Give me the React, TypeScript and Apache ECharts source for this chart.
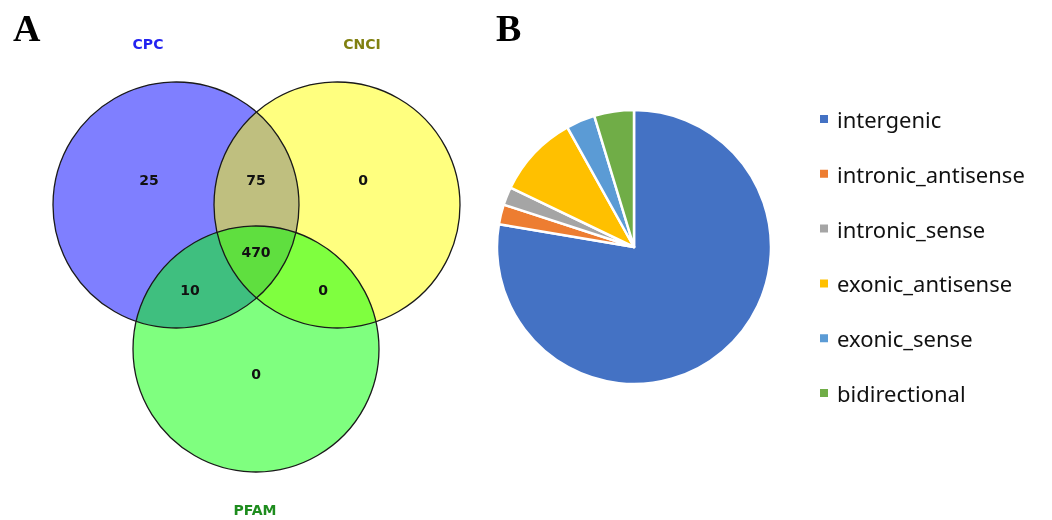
import React, { useEffect, useRef } from "react";
import * as echarts from "echarts";

// Venn data
const vennSets = ["CPC", "CNCI", "PFAM"];
const vennSetColors = ["#2323f0", "#808010", "#1e8c1e"];
const vennRegions = ["CPC only", "CPC∩CNCI", "CNCI only", "CPC∩CNCI∩PFAM", "CPC∩PFAM", "CNCI∩PFAM", "PFAM only"];
const vennCounts = [25, 75, 0, 470, 10, 0, 0];

// Pie data
const pieCategories = ["intergenic", "intronic_antisense", "intronic_sense", "exonic_antisense", "exonic_sense", "bidirectional"];
const pieValues = [365, 11, 10, 46, 16, 22];
const pieColors = ["#4472C4", "#ED7D31", "#A5A5A5", "#FFC000", "#5B9BD5", "#70AD47"];

// layout (pixels)
const circleLayout = [
  { cx: 176, cy: 205, r: 123, fill: "rgba(0,0,255,0.5)" },
  { cx: 337, cy: 205, r: 123, fill: "rgba(255,255,0,0.5)" },
  { cx: 256, cy: 349, r: 123, fill: "rgba(0,255,0,0.5)" },
];
const setLabelPos = [
  [148, 44],
  [362, 44],
  [255, 510],
];
const regionPos = [
  [149, 180],
  [256, 180],
  [363, 180],
  [256, 252],
  [190, 290],
  [323, 290],
  [256, 374],
];

export default function App() {
  const ref = useRef<HTMLDivElement>(null);
  useEffect(() => {
    if (!ref.current) return;
    const chart = echarts.init(ref.current, null, { renderer: "svg" });
    const graphics: any[] = [];
    circleLayout.forEach((c) => {
      graphics.push({
        type: "circle",
        shape: { cx: c.cx, cy: c.cy, r: c.r },
        style: { fill: c.fill, stroke: "none" },
        silent: true,
      });
    });
    circleLayout.forEach((c) => {
      graphics.push({
        type: "circle",
        shape: { cx: c.cx, cy: c.cy, r: c.r },
        style: { fill: "none", stroke: "#1a1a1a", lineWidth: 1.3 },
        silent: true,
      });
    });
    vennSets.forEach((s, i) => {
      graphics.push({
        type: "text",
        x: setLabelPos[i][0],
        y: setLabelPos[i][1],
        style: {
          text: s,
          fill: vennSetColors[i],
          font: "bold 14px 'DejaVu Sans', Verdana, sans-serif",
          align: "center",
          verticalAlign: "middle",
        },
      });
    });
    vennCounts.forEach((v, i) => {
      graphics.push({
        type: "text",
        x: regionPos[i][0],
        y: regionPos[i][1],
        style: {
          text: String(v),
          fill: "#111",
          font: "bold 14px 'DejaVu Sans', Verdana, sans-serif",
          align: "center",
          verticalAlign: "middle",
        },
      });
    });
    graphics.push({
      type: "text",
      x: 13,
      y: 28,
      style: {
        text: "A",
        fill: "#000",
        font: "bold 38px 'Liberation Serif', 'Times New Roman', serif",
        align: "left",
        verticalAlign: "middle",
      },
    });
    graphics.push({
      type: "text",
      x: 496,
      y: 28,
      style: {
        text: "B",
        fill: "#000",
        font: "bold 38px 'Liberation Serif', 'Times New Roman', serif",
        align: "left",
        verticalAlign: "middle",
      },
    });

    chart.setOption({
      animation: false,
      color: pieColors,
      graphic: graphics,
      legend: {
        orient: "vertical",
        left: 813,
        top: 103,
        icon: "rect",
        itemWidth: 10,
        itemHeight: 10,
        itemGap: 32.8,
        data: pieCategories,
        textStyle: {
          fontFamily: "'Noto Sans', 'Open Sans', sans-serif",
          fontSize: 22,
          lineHeight: 22,
          color: "#111",
          padding: [0, 0, 0, 3],
        },
        selectedMode: false,
      },
      series: [
        {
          type: "pie",
          center: [634, 247],
          radius: 137,
          startAngle: 90,
          clockwise: true,
          label: { show: false },
          labelLine: { show: false },
          itemStyle: { borderColor: "#fff", borderWidth: 2.5 },
          emphasis: { disabled: true },
          data: pieCategories.map((c, i) => ({ name: c, value: pieValues[i] })),
        },
      ],
    });
    return () => chart.dispose();
  }, []);
  return (
    <div
      ref={ref}
      style={{ position: "fixed", left: 0, top: 0, width: 1052, height: 520 }}
    />
  );
}
